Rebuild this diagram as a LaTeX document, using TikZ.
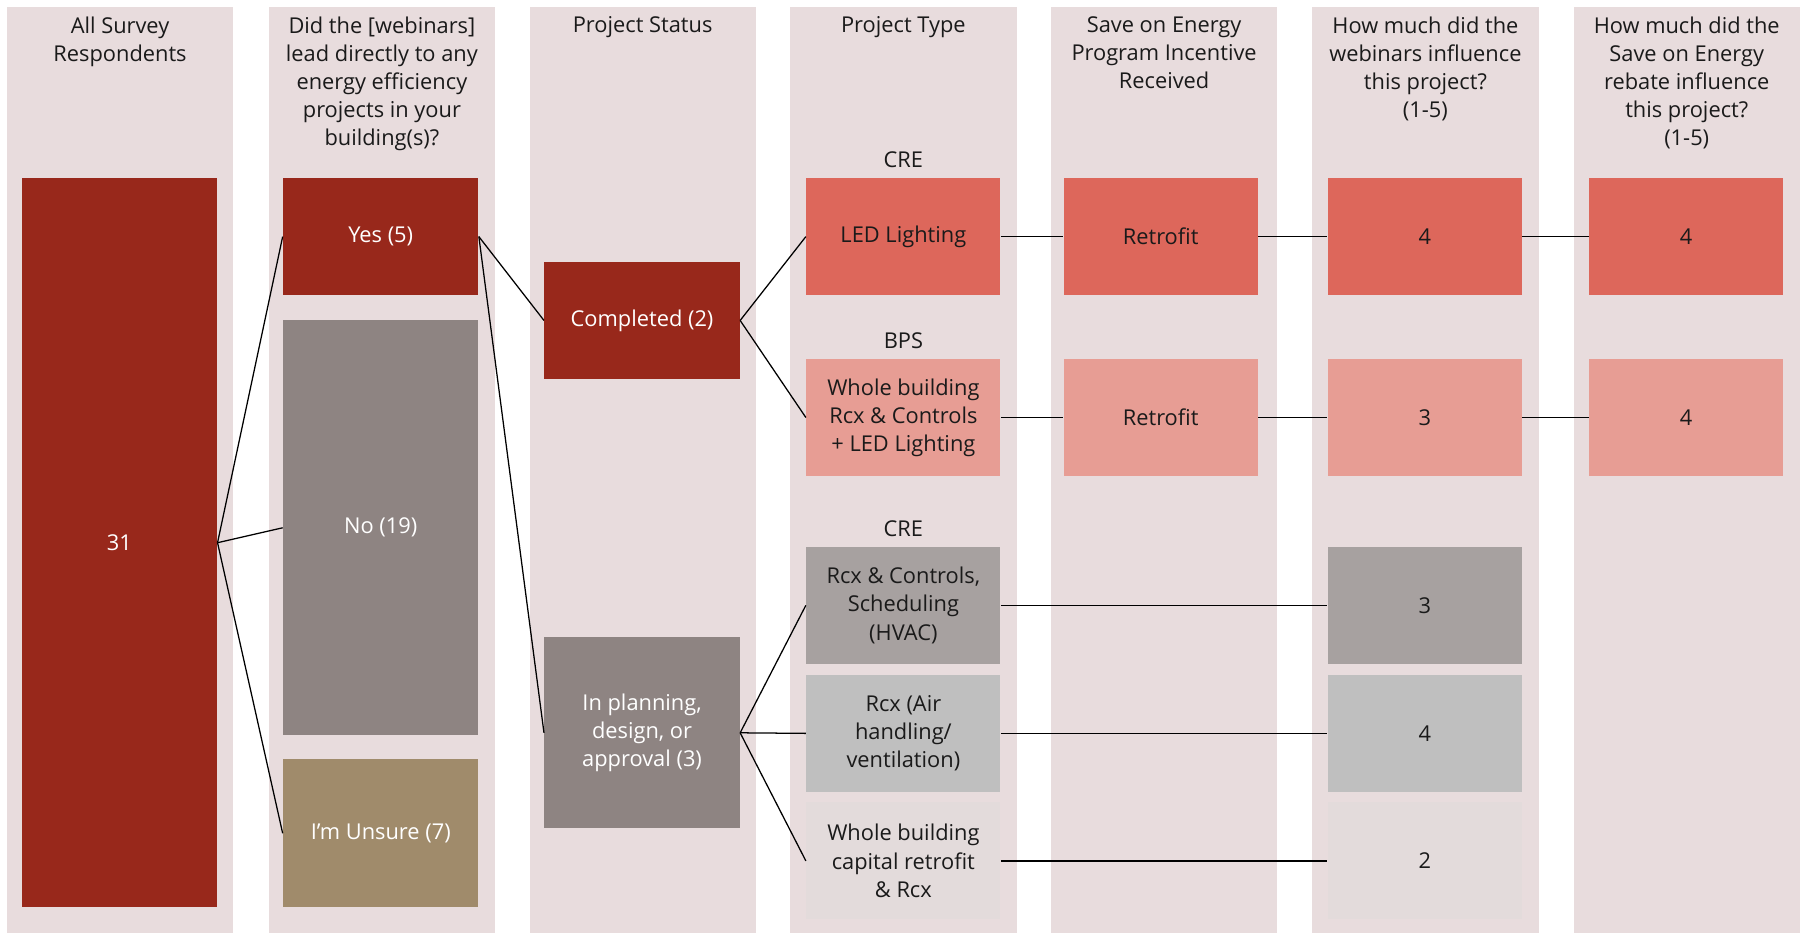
\documentclass[tikz,border=0pt]{standalone}
\usepackage{fontspec}
\setmainfont{Open Sans}
\usetikzlibrary{positioning}
\definecolor{colbg}{HTML}{E8DCDD}
\definecolor{darkred}{HTML}{98281B}
\definecolor{mauve}{HTML}{8E8482}
\definecolor{khaki}{HTML}{A08B6B}
\definecolor{salmon}{HTML}{DD675B}
\definecolor{pinkish}{HTML}{E79D94}
\definecolor{greymid}{HTML}{A7A1A0}
\definecolor{greylight}{HTML}{BFBFBF}
\definecolor{greypale}{HTML}{E3DBDB}
\definecolor{inktext}{HTML}{1A1A1A}

\begin{document}
\begin{tikzpicture}[x=0.5pt, y=-0.5pt, font=\fontsize{9.5}{12.25}\selectfont,
  col/.style = {fill=colbg, inner sep=0pt, minimum width=98.5pt, minimum height=403pt, anchor=north},
  head/.style = {align=center, anchor=north, inner sep=0pt, text=inktext},
  dark/.style = {align=center, text=white, inner sep=1pt, minimum width=85pt, minimum height=51pt},
  pale/.style = {align=center, text=inktext, inner sep=1pt, minimum width=84.5pt, minimum height=51pt},
  tag/.style = {text=inktext, inner sep=1pt},
  link/.style = {draw=black, line width=0.55pt}]
\useasboundingbox (0,0) rectangle (1568,812);

% columns
\foreach \x/\n in {104.5/c1, 332.5/c2, 559.5/c3, 786.5/c4, 1013.5/c5, 1241/c6, 1468.5/c7}
  \node[col] (\n) at (\x,6) {};

% headings
\node[head] (hall) at (104.5,14) {All Survey\\Respondents};
\node[head] (hlead) at (332.5,14) {Did the [webinars]\\lead directly to any\\energy efficiency\\projects in your\\building(s)?};
\node[head] (hstatus) at (559.5,14) {Project Status};
\node[head] (htype) at (786.5,14) {Project Type};
\node[head] (hincent) at (1013.5,14) {Save on Energy\\Program Incentive\\Received};
\node[head] (hweb) at (1241,14) {How much did the\\webinars influence\\this project?\\(1-5)};
\node[head] (hrebate) at (1468.5,14) {How much did the\\Save on Energy\\rebate influence\\this project?\\(1-5)};

% respondents and answers
\node[dark, fill=darkred, minimum height=317.5pt] (all) at (104,472.5) {31};
\node[dark, fill=darkred] (yes) at (331.5,206) {Yes (5)};
\node[dark, fill=mauve, minimum height=180.5pt] (no) at (331.5,459.5) {No (19)};
\node[dark, fill=khaki, minimum height=64.5pt] (unsure) at (331.5,725.5) {I’m Unsure (7)};

% status
\node[dark, fill=darkred] (done) at (559,279) {Completed (2)};
\node[dark, fill=mauve, minimum height=83pt] (plan) at (559,638) {In planning,\\design, or\\approval (3)};

% project type
\node[pale, fill=salmon] (led) at (786.5,206) {LED Lighting};
\node[pale, fill=pinkish] (bps) at (786.5,363.5) {Whole building\\Rcx \& Controls\\+ LED Lighting};
\node[pale, fill=greymid] (hvac) at (786.5,527) {Rcx \& Controls,\\Scheduling\\(HVAC)};
\node[pale, fill=greylight] (air) at (786.5,638.5) {Rcx (Air\\handling/\\ventilation)};
\node[pale, fill=greypale] (capital) at (786.5,749.5) {Whole building\\capital retrofit\\\& Rcx};
\node[tag, above=3pt of led] (crea) {CRE};
\node[tag, above=3pt of bps] (bpstag) {BPS};
\node[tag, above=3pt of hvac] (creb) {CRE};

% incentive
\node[pale, fill=salmon] (inca) at (1010.5,206) {Retrofit};
\node[pale, fill=pinkish] (incb) at (1010.5,363.5) {Retrofit};

% webinar influence
\node[pale, fill=salmon] (weba) at (1240.5,206) {4};
\node[pale, fill=pinkish] (webb) at (1240.5,363.5) {3};
\node[pale, fill=greymid] (webc) at (1240.5,527) {3};
\node[pale, fill=greylight] (webd) at (1240.5,638.5) {4};
\node[pale, fill=greypale] (webe) at (1240.5,749.5) {2};

% rebate influence
\node[pale, fill=salmon] (reba) at (1468,206) {4};
\node[pale, fill=pinkish] (rebb) at (1468,363.5) {4};

% links
\draw[link] (all.east) -- (yes.west);
\draw[link] (all.east) -- (no.west);
\draw[link] (all.east) -- (unsure.west);
\draw[link] (yes.east) -- (done.west);
\draw[link] (yes.east) -- (plan.west);
\draw[link] (done.east) -- (led.west);
\draw[link] (done.east) -- (bps.west);
\draw[link] (plan.east) -- (hvac.west);
\draw[link] (plan.east) -- (air.west);
\draw[link] (plan.east) -- (capital.west);
\draw[link] (led) -- (inca) -- (weba) -- (reba);
\draw[link] (bps) -- (incb) -- (webb) -- (rebb);
\draw[link] (hvac) -- (webc);
\draw[link] (air) -- (webd);
\draw[link] (capital) -- (webe);
\end{tikzpicture}
\end{document}
